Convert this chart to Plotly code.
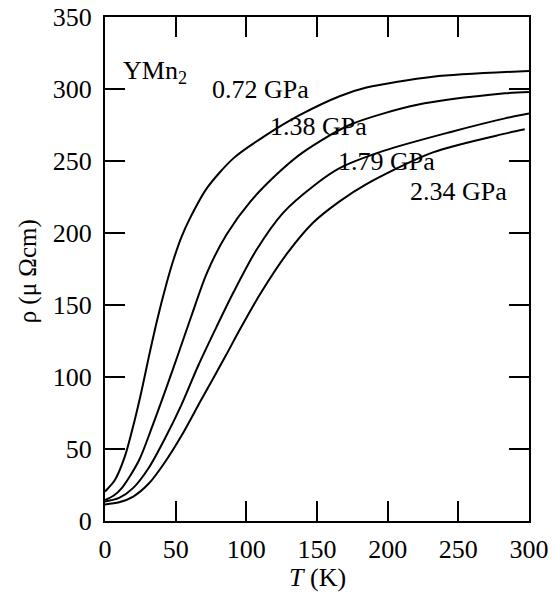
import plotly.graph_objects as go

T_072 = [0, 7, 14, 21, 26, 31, 37, 43, 48, 54, 60, 72, 91, 114, 138, 166, 185, 232, 300]
R_072 = [20.5, 28.5, 44.7, 70, 91, 114, 140, 163, 180, 197, 210, 231, 252, 268, 282, 295, 301, 308.5, 312.5]

T_138 = [0, 6, 12, 24, 33, 42.5, 52, 61, 72, 86, 103, 124, 140, 173, 221, 283, 300]
R_138 = [14.6, 17.5, 23, 42, 64.5, 90, 116.5, 142, 172, 199, 222, 243, 256, 275, 289, 297, 298]

T_179 = [0, 10, 20, 31, 42.5, 54, 66, 79, 91, 107, 126, 148, 166, 197, 244, 283, 300]
R_179 = [13.5, 16, 23, 37, 57.5, 80.5, 108, 135, 159, 188, 214, 233, 245, 257, 270, 279.6, 283]

T_234 = [0, 10, 20, 31, 42.5, 54, 68, 85, 96, 110, 129, 147, 166, 185, 232, 283, 297]
R_234 = [11.5, 13, 17, 26, 41, 59, 84, 114, 134, 158, 186, 207, 222, 234, 256, 269, 272]

labels = ["0.72 GPa", "1.38 GPa", "1.79 GPa", "2.34 GPa"]
label_x = [110, 151, 199, 250]
label_y = [300, 274, 249.5, 229]

series = [(T_072, R_072), (T_138, R_138), (T_179, R_179), (T_234, R_234)]

fig = go.Figure()
for (t, r) in series:
    fig.add_trace(go.Scatter(x=t, y=r, mode="lines",
                             line=dict(color="black", width=2, shape="spline", smoothing=0.8),
                             showlegend=False, hoverinfo="skip"))

FAM = "Liberation Serif, Times New Roman, serif"
font = dict(family=FAM, size=26, color="black")

for lab, lx, ly in zip(labels, label_x, label_y):
    fig.add_annotation(x=lx, y=ly, text=lab, showarrow=False, font=font,
                       xanchor="center", yanchor="middle")

fig.add_annotation(x=11, y=312, text="YMn<sub>2</sub>", showarrow=False, font=font,
                   xanchor="left", yanchor="middle")

fig.add_annotation(xref="paper", yref="paper", x=-0.182, y=0.495, text="ρ (μ Ωcm)",
                   textangle=-90, showarrow=False, font=dict(family=FAM, size=25, color="black"),
                   xanchor="center", yanchor="middle")
fig.add_annotation(xref="paper", yref="paper", x=0.5, y=-0.113, text="<i>T</i> (K)",
                   showarrow=False, font=font, xanchor="center", yanchor="middle")

axis_common = dict(showline=True, linecolor="black", linewidth=2, mirror="ticks",
                   ticks="inside", ticklen=20, tickwidth=2, tickcolor="black",
                   showgrid=False, zeroline=False, tickfont=font,
                   ticklabeloverflow="allow")

fig.update_xaxes(range=[0, 300], tickvals=[0, 50, 100, 150, 200, 250, 300],
                 ticklabelstandoff=4, **axis_common)
fig.update_yaxes(range=[0, 350], tickvals=[0, 50, 100, 150, 200, 250, 300, 350],
                 ticklabelstandoff=6, **axis_common)

fig.update_layout(width=555, height=594,
                  margin=dict(l=105, r=26, t=17, b=73, autoexpand=False),
                  plot_bgcolor="white", paper_bgcolor="white")

fig.write_html("out.html", config={"displayModeBar": False},
               post_script="document.body.style.margin='0';")
